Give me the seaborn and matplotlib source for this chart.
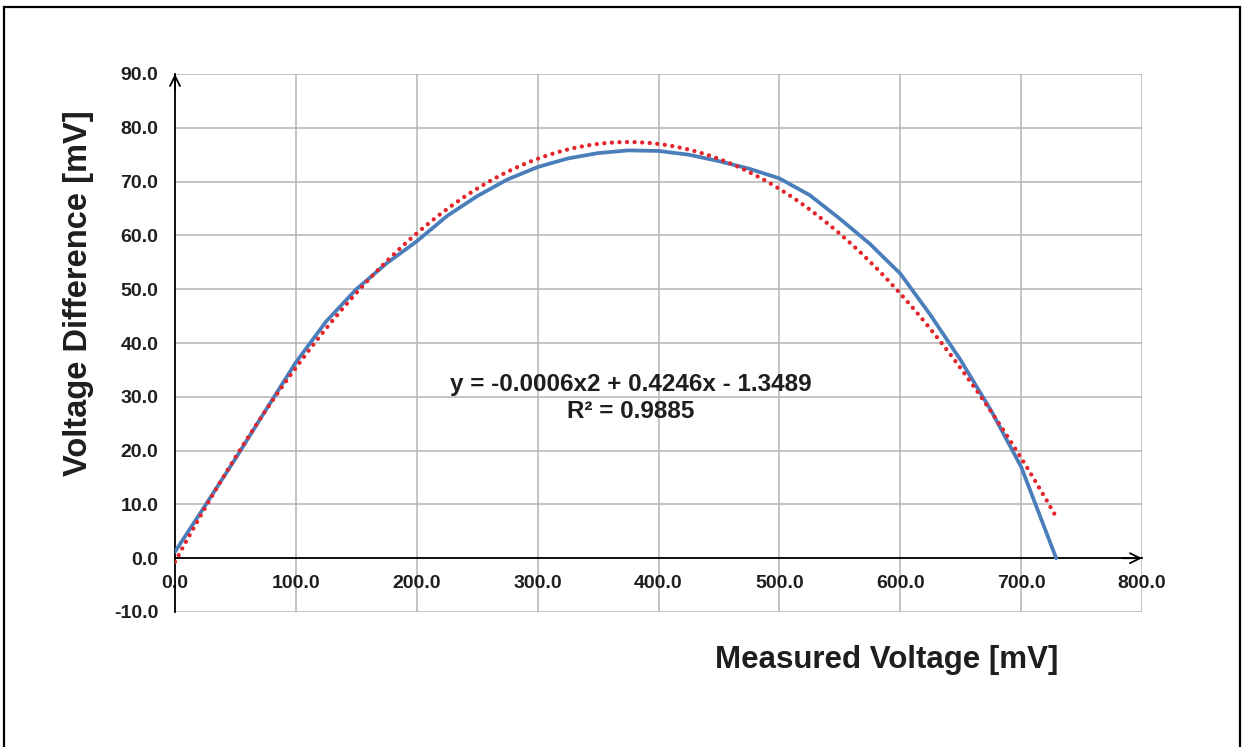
import numpy as np
import pandas as pd
import matplotlib
matplotlib.use("Agg")
import matplotlib.pyplot as plt
from matplotlib.patches import Rectangle
import seaborn as sns

# ---- data ----
measured_mv = [0, 25, 50, 75, 100, 125, 150, 175, 200, 225, 250, 275, 300, 325, 350,
               375, 400, 425, 450, 475, 500, 525, 550, 575, 600, 625, 650, 675, 700, 729]
voltage_diff_mv = [1.2, 9.8, 18.5, 27.5, 36.4, 44.0, 50.0, 54.8, 58.9, 63.6, 67.3, 70.4,
                   72.7, 74.3, 75.3, 75.8, 75.7, 75.0, 73.8, 72.4, 70.6, 67.5, 63.1, 58.4,
                   52.9, 45.2, 36.8, 27.5, 17.0, 0.0]
x_ticks = [0, 100, 200, 300, 400, 500, 600, 700, 800]
y_ticks = [-10, 0, 10, 20, 30, 40, 50, 60, 70, 80, 90]
equation_text = "y = -0.0006x2 + 0.4246x - 1.3489"
r2_text = "R\u00b2 = 0.9885"
x_label = "Measured Voltage [mV]"
y_label = "Voltage Difference [mV]"

df = pd.DataFrame({"x": measured_mv, "y": voltage_diff_mv})

sns.set_theme(style="white")
plt.rcParams["font.family"] = ["Liberation Sans", "DejaVu Sans"]
plt.rcParams["font.weight"] = "bold"

W, H = 1244, 747
fig = plt.figure(figsize=(W / 100, H / 100), dpi=100)
fig.patch.set_facecolor("white")

# outer frame (page box)
fig.patches.append(Rectangle((4 / W, -0.05), 1236 / W, 1 - 7 / H + 0.05,
                             transform=fig.transFigure, fill=False,
                             edgecolor="black", linewidth=1.6, zorder=0))

ax = fig.add_axes([175 / W, 1 - 612 / H, (1142 - 175) / W, (612 - 74) / H])

# data line
sns.lineplot(data=df, x="x", y="y", ax=ax, color="#4a7ebb", linewidth=2.7,
             sort=False, zorder=3)
# quadratic trend line
sns.regplot(data=df, x="x", y="y", order=2, ci=None, scatter=False, ax=ax,
            line_kws=dict(color="#e3242b", linewidth=3.1,
                          linestyle=(0, (0.01, 1.75)), dash_capstyle="round",
                          zorder=4))

for s in ["top", "right"]:
    ax.spines[s].set_visible(False)
ax.spines["bottom"].set_position(("data", 0))
ax.spines["bottom"].set_color("black")
ax.spines["bottom"].set_linewidth(1.3)
ax.spines["left"].set_color("black")
ax.spines["left"].set_linewidth(1.3)

ax.set_xlim(0, 800)
ax.set_ylim(-10, 90)
ax.set_xticks(x_ticks)
ax.set_yticks(y_ticks)
ax.set_xticklabels([f"{v:.1f}" for v in x_ticks], fontsize=14, fontweight="bold")
ax.set_yticklabels([f"{v:.1f}" for v in y_ticks], fontsize=14, fontweight="bold")
ax.grid(True, color="#b4b4b4", linewidth=1.1)
ax.set_axisbelow(True)
ax.tick_params(axis="both", length=0, colors="#1e1e1e")
ax.tick_params(axis="y", pad=12)
ax.tick_params(axis="x", pad=12)

# arrow heads on the axes
ax.annotate("", xy=(1.0, 0), xytext=(0.98, 0),
            xycoords=("axes fraction", "data"), textcoords=("axes fraction", "data"),
            arrowprops=dict(arrowstyle="->", color="black", lw=1.3,
                            mutation_scale=18, shrinkA=0, shrinkB=0))
ax.annotate("", xy=(0, 1.0), xytext=(0, 0.97),
            xycoords="axes fraction", textcoords="axes fraction",
            arrowprops=dict(arrowstyle="->", color="black", lw=1.3,
                            mutation_scale=18, shrinkA=0, shrinkB=0))

ax.set_xlabel("")
ax.set_ylabel("")

# trend line equation
ax.text(377, 32.3, equation_text, ha="center", va="center", fontsize=17.5,
        fontweight="bold", color="#1e1e1e", zorder=5)
ax.text(377, 27.2, r2_text, ha="center", va="center", fontsize=17.5,
        fontweight="bold", color="#1e1e1e", zorder=5)

fig.text(887 / W, 1 - 660 / H, x_label, ha="center", va="center",
         fontsize=22.5, fontweight="bold", color="#1e1e1e")
fig.text(79 / W, 1 - 293 / H, y_label, ha="center", va="center", rotation=90,
         fontsize=23.5, fontweight="bold", color="#1e1e1e")

fig.savefig("out.png", dpi=100, facecolor="white")
